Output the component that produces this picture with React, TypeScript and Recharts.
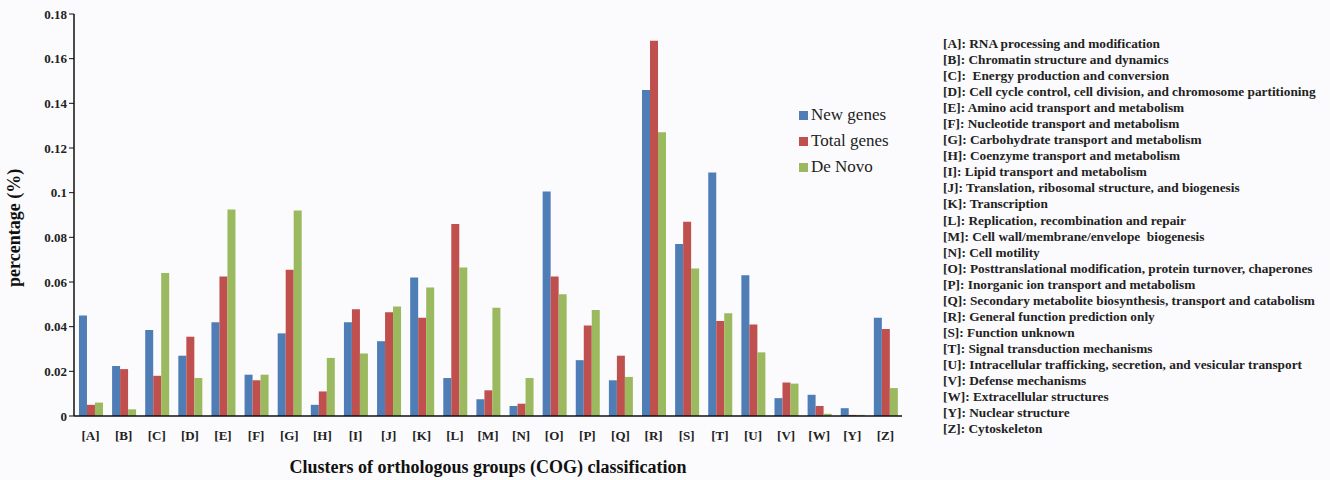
import { Bar, BarChart, XAxis, YAxis } from "recharts"

const categories = ["A", "B", "C", "D", "E", "F", "G", "H", "I", "J", "K", "L", "M", "N", "O", "P", "Q", "R", "S", "T", "U", "V", "W", "Y", "Z"]

const newGenes = [0.045, 0.0224, 0.0385, 0.027, 0.042, 0.0185, 0.037, 0.005, 0.042, 0.0335, 0.062, 0.017, 0.0075, 0.0045, 0.1005, 0.025, 0.016, 0.146, 0.077, 0.109, 0.063, 0.008, 0.0095, 0.0035, 0.044]
const totalGenes = [0.005, 0.021, 0.018, 0.0355, 0.0625, 0.016, 0.0655, 0.011, 0.0478, 0.0465, 0.044, 0.086, 0.0115, 0.0055, 0.0625, 0.0405, 0.027, 0.168, 0.087, 0.0425, 0.041, 0.015, 0.0045, 0.0005, 0.039]
const deNovo = [0.006, 0.003, 0.064, 0.017, 0.0925, 0.0185, 0.092, 0.026, 0.028, 0.049, 0.0575, 0.0665, 0.0485, 0.017, 0.0545, 0.0475, 0.0175, 0.127, 0.066, 0.046, 0.0285, 0.0145, 0.001, 0.0005, 0.0125]

const yTicks = [0, 0.02, 0.04, 0.06, 0.08, 0.1, 0.12, 0.14, 0.16, 0.18]

const cogNames = [
  "RNA processing and modification",
  "Chromatin structure and dynamics",
  " Energy production and conversion",
  "Cell cycle control, cell division, and chromosome partitioning",
  "Amino acid transport and metabolism",
  "Nucleotide transport and metabolism",
  "Carbohydrate transport and metabolism",
  "Coenzyme transport and metabolism",
  "Lipid transport and metabolism",
  "Translation, ribosomal structure, and biogenesis",
  "Transcription",
  "Replication, recombination and repair",
  "Cell wall/membrane/envelope  biogenesis",
  "Cell motility",
  "Posttranslational modification, protein turnover, chaperones",
  "Inorganic ion transport and metabolism",
  "Secondary metabolite biosynthesis, transport and catabolism",
  "General function prediction only",
  "Function unknown",
  "Signal transduction mechanisms",
  "Intracellular trafficking, secretion, and vesicular transport",
  "Defense mechanisms",
  "Extracellular structures",
  "Nuclear structure",
  "Cytoskeleton",
]

const series = [
  { key: "newGenes", name: "New genes", color: "#4F7DB5" },
  { key: "totalGenes", name: "Total genes", color: "#C0504D" },
  { key: "deNovo", name: "De Novo", color: "#9BB95E" },
]

const data = categories.map((c, i) => ({
  cat: `[${c}]`,
  newGenes: newGenes[i],
  totalGenes: totalGenes[i],
  deNovo: deNovo[i],
}))

const serif = "'Liberation Serif', 'Times New Roman', serif"

export default function App() {
  return (
    <div style={{ position: "absolute", left: 0, top: 0, width: 1330, height: 480, background: "#fbfbfd" }}>
      <BarChart
        width={930}
        height={480}
        data={data}
        margin={{ top: 14, right: 28, left: 0, bottom: 0 }}
        barCategoryGap="15%"
        barGap={0}
      >
        <XAxis
          dataKey="cat"
          height={64}
          tickLine={false}
          tickMargin={9}
          axisLine={{ stroke: "#111", strokeWidth: 1.5 }}
          tick={{ fill: "#222", fontFamily: serif, fontSize: 13, fontWeight: "bold" }}
          label={{
            value: "Clusters of orthologous groups (COG) classification",
            position: "insideBottom",
            offset: 7,
            style: { fill: "#111", fontFamily: serif, fontSize: 18, fontWeight: "bold" },
          }}
        />
        <YAxis
          width={74}
          domain={[0, 0.18]}
          ticks={yTicks}
          tickSize={5}
          tickLine={{ stroke: "#111" }}
          axisLine={{ stroke: "#111", strokeWidth: 1.5 }}
          tickFormatter={(v) => String(+Number(v).toFixed(2))}
          tick={{ fill: "#222", fontFamily: serif, fontSize: 13, fontWeight: "bold" }}
          label={{
            value: "percentage (%)",
            angle: -90,
            position: "insideLeft",
            offset: 14,
            dy: 72,
            style: { fill: "#111", fontFamily: serif, fontSize: 18, fontWeight: "bold" },
          }}
        />
        {series.map((s) => (
          <Bar key={s.key} dataKey={s.key} name={s.name} fill={s.color} isAnimationActive={false} />
        ))}
      </BarChart>
      {/* series legend */}
      <div style={{ position: "absolute", left: 799, top: 102, fontFamily: serif, fontSize: 17, color: "#222" }}>
        {series.map((s) => (
          <div key={s.key} style={{ display: "flex", alignItems: "center", height: 26 }}>
            <span style={{ width: 9, height: 9, background: s.color, marginRight: 3 }} />
            {s.name}
          </div>
        ))}
      </div>
      {/* COG category names */}
      <div
        style={{
          position: "absolute",
          left: 943,
          top: 36,
          fontFamily: serif,
          fontSize: 13.3,
          fontWeight: "bold",
          color: "#222",
          lineHeight: "16.05px",
          whiteSpace: "pre",
        }}
      >
        {categories.map((c, i) => (
          <div key={c}>{`[${c}]: ${cogNames[i]}`}</div>
        ))}
      </div>
    </div>
  )
}
